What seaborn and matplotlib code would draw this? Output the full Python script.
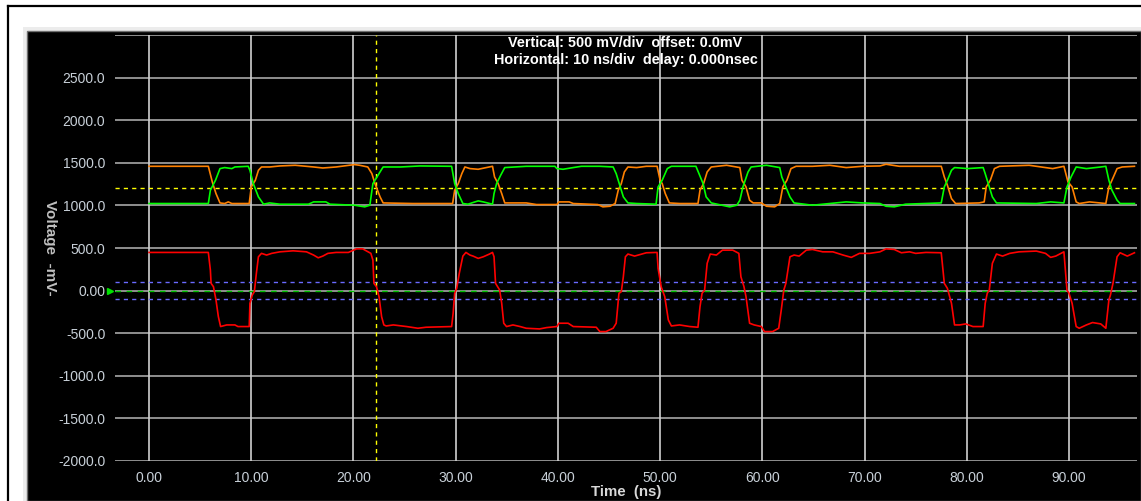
import numpy as np
import pandas as pd
import matplotlib.pyplot as plt
import matplotlib.transforms as mtransforms
from matplotlib.patches import Rectangle
from matplotlib.lines import Line2D
import seaborn as sns

# trace breakpoints (time in ns, voltage in mV)
orange_t = [0.0, 5.8, 6.2, 6.55, 6.94, 7.4, 7.75, 8.1, 9.8, 10.0, 10.4, 10.7, 11.0, 11.8,
            12.8, 14.3, 16.1, 17.0, 18.3, 20.1, 20.6, 21.4, 21.8, 22.1, 22.6, 22.9, 25.8,
            29.7, 29.9, 30.25, 30.6, 30.9, 31.4, 32.2, 33.0, 33.6, 33.8, 34.15, 34.5, 34.8,
            36.9, 37.9, 39.9, 40.1, 41.1, 41.5, 43.9, 44.4, 45.1, 45.6, 45.9, 46.2, 46.5,
            46.85, 47.7, 48.65, 49.7, 50.0, 50.2, 50.5, 50.9, 51.9, 53.7, 53.9, 54.25, 54.6,
            55.0, 56.5, 57.8, 58.0, 58.4, 58.75, 59.1, 59.9, 60.4, 61.2, 61.7, 62.0, 62.4,
            62.8, 63.3, 64.9, 66.6, 68.2, 69.8, 71.5, 72.1, 73.4, 77.5, 77.8, 78.1, 78.5,
            78.9, 81.2, 81.7, 81.9, 82.3, 82.7, 83.2, 86.1, 88.4, 89.5, 89.9, 90.3, 90.7,
            91.0, 92.0, 93.6, 93.9, 94.2, 94.7, 95.2, 96.4]
orange_mv = [1459, 1459, 1270, 1139, 1029, 1022, 1041, 1022, 1022, 1217, 1295, 1412, 1451, 1451,
             1463, 1471, 1451, 1439, 1451, 1479, 1471, 1451, 1373, 1256, 1100, 1029, 1022,
             1022, 1178, 1256, 1373, 1451, 1432, 1424, 1444, 1459, 1334, 1256, 1139, 1029,
             1029, 1010, 1010, 1041, 1041, 1022, 1010, 983, 990, 1022, 1178, 1256, 1393,
             1451, 1444, 1459, 1459, 1295, 1256, 1139, 1029, 1022, 1022, 1178, 1256, 1393,
             1451, 1471, 1444, 1295, 1217, 1061, 1029, 1029, 990, 983, 1022, 1217, 1295,
             1432, 1459, 1459, 1471, 1444, 1459, 1463, 1483, 1459, 1459, 1334, 1237, 1080,
             1022, 1029, 1041, 1217, 1295, 1432, 1459, 1471, 1432, 1459, 1276, 1217, 1041,
             1022, 1041, 1022, 1217, 1295, 1432, 1451, 1459]

green_t = [0.0, 5.8, 6.0, 6.5, 6.94, 7.4, 8.1, 8.4, 9.7, 9.87, 10.2, 10.7, 11.2, 11.8, 12.8,
           15.6, 16.1, 17.3, 17.7, 20.1, 21.1, 21.6, 21.9, 22.6, 22.9, 24.6, 26.5, 29.6,
           29.9, 30.25, 30.7, 31.2, 31.7, 32.2, 32.7, 33.6, 33.75, 34.0, 34.4, 34.8, 36.9,
           39.7, 39.9, 40.5, 41.5, 42.3, 44.1, 45.4, 45.7, 46.0, 46.4, 46.85, 47.7, 49.6,
           49.8, 50.2, 50.7, 51.1, 53.5, 53.8, 54.2, 54.5, 55.0, 56.8, 57.5, 57.8, 58.1,
           58.6, 58.9, 60.4, 61.7, 61.9, 62.3, 62.7, 63.1, 64.9, 68.2, 69.8, 71.5, 72.1,
           72.9, 74.0, 77.5, 77.8, 78.1, 78.5, 78.8, 80.1, 81.6, 81.8, 82.1, 82.5, 82.9,
           86.8, 88.2, 89.5, 89.8, 90.2, 90.7, 91.7, 93.1, 93.6, 93.9, 94.2, 94.7, 95.0, 96.4]
green_mv = [1022, 1022, 1178, 1295, 1432, 1444, 1432, 1451, 1459, 1412, 1256, 1100, 1014, 1029, 1014,
            1014, 1041, 1041, 1014, 1002, 983, 1002, 1256, 1393, 1451, 1451, 1463, 1459,
            1256, 1139, 1022, 1014, 1034, 1053, 1041, 1014, 1139, 1256, 1354, 1444, 1459,
            1459, 1432, 1424, 1444, 1459, 1459, 1451, 1373, 1256, 1100, 1029, 1022, 1014,
            1217, 1295, 1432, 1459, 1459, 1373, 1256, 1100, 1029, 983, 1002, 1061, 1217,
            1393, 1451, 1471, 1444, 1334, 1217, 1100, 1029, 1002, 1041, 1029, 1022, 990,
            983, 1014, 1029, 1217, 1295, 1412, 1444, 1432, 1444, 1373, 1256, 1100, 1029,
            1022, 1041, 1029, 1217, 1334, 1451, 1432, 1451, 1459, 1295, 1178, 1061, 1022, 1022]

red_t = [0.0, 5.8, 6.0, 6.07, 6.3, 6.55, 6.78, 7.0, 7.6, 8.4, 8.7, 9.8, 9.87, 10.1, 10.3, 10.5,
         10.7, 11.0, 11.5, 12.0, 12.8, 14.1, 15.4, 16.1, 16.55, 17.0, 17.5, 18.3, 19.5, 20.0,
         20.3, 20.9, 21.3, 21.7, 21.9, 22.0, 22.25, 22.5, 22.75, 22.97, 23.2, 23.9, 25.2,
         26.3, 27.1, 29.6, 29.75, 29.9, 30.1, 30.35, 30.7, 31.0, 31.4, 31.7, 32.2, 32.7,
         33.3, 33.6, 33.75, 33.9, 34.1, 34.3, 34.5, 34.7, 34.97, 35.6, 36.3, 36.9, 38.2,
         38.9, 39.9, 40.1, 41.0, 41.5, 43.75, 44.1, 44.7, 45.4, 45.7, 45.97, 46.2, 46.4,
         46.6, 46.85, 47.5, 48.2, 48.65, 49.7, 49.8, 50.1, 50.45, 50.8, 51.1, 51.9, 52.9,
         53.7, 53.9, 54.1, 54.35, 54.6, 54.9, 55.5, 56.1, 57.1, 57.7, 57.9, 58.2, 58.4,
         58.75, 59.2, 59.9, 60.2, 61.0, 61.6, 61.85, 62.1, 62.3, 62.7, 63.1, 63.6, 64.3,
         64.9, 65.9, 66.9, 67.9, 68.7, 69.5, 70.5, 71.5, 72.1, 72.9, 73.6, 74.4, 75.0,
         76.0, 77.5, 77.8, 78.1, 78.5, 78.8, 79.3, 79.9, 80.6, 81.6, 81.8, 82.0, 82.2,
         82.5, 82.9, 83.5, 84.2, 85.1, 86.8, 87.7, 88.2, 88.7, 89.5, 89.8, 90.0, 90.3,
         90.7, 91.0, 91.7, 92.3, 93.1, 93.6, 93.9, 94.05, 94.3, 94.7, 95.0, 95.7, 96.4]
red_mv = [448, 448, 241, 85, 46, -110, -305, -422, -403, -403, -422, -422, -150, -52, -13, 203,
          397, 437, 417, 437, 455, 467, 455, 417, 385, 405, 437, 448, 448, 475,
          490, 490, 464, 437, 358, 85, 46, -71, -305, -403, -415, -403, -422,
          -442, -430, -422, -266, -32, 27, 203, 405, 448, 417, 405, 378, 397,
          429, 448, 397, 85, 46, 7, -149, -383, -422, -403, -422, -442, -450,
          -434, -422, -383, -383, -422, -430, -481, -481, -442, -383, -32, -13, 163,
          397, 429, 405, 429, 444, 448, 261, 46, -71, -344, -415, -403, -422,
          -430, -188, -32, 7, 320, 429, 417, 475, 475, 437, 163, 46, -71,
          -383, -403, -422, -481, -481, -442, -227, 7, 85, 397, 417, 405, 475,
          483, 455, 455, 417, 390, 437, 437, 455, 490, 483, 444, 455, 437,
          448, 444, 85, 27, -149, -403, -403, -391, -422, -422, -149, -32, 7,
          320, 429, 405, 437, 455, 464, 437, 390, 405, 455, 7, -32, -149,
          -422, -442, -403, -375, -391, -442, -110, -52, 85, 397, 444, 405, 444]

x_ticks = [0, 10, 20, 30, 40, 50, 60, 70, 80, 90]
x_tick_labels = ["0.00", "10.00", "20.00", "30.00", "40.00", "50.00", "60.00", "70.00", "80.00", "90.00"]
y_grid = [-2000, -1500, -1000, -500, 0, 500, 1000, 1500, 2000, 2500, 3000]
y_ticks = [-2000, -1500, -1000, -500, 0, 500, 1000, 1500, 2000, 2500]
y_tick_labels = ["-2000.0", "-1500.0", "-1000.0", "-500.0", "0.00", "500.0", "1000.0", "1500.0", "2000.0", "2500.0"]
cursor_ns = 22.2
crossing_mv = 1210
threshold_mv = 100

plt.rcParams['font.family'] = ['Liberation Sans', 'DejaVu Sans']

W, H = 1141, 501
fig = plt.figure(figsize=(W / 100, H / 100), dpi=100, facecolor='white')

# window frame: outer black edge, light gray bevel, black screen (kept behind the axes)
fig.add_artist(Line2D([8 / W, 1], [1 - 6 / H, 1 - 6 / H], color='black', lw=1.6,
                      transform=fig.transFigure, zorder=-10))
fig.add_artist(Line2D([8 / W, 8 / W], [0, 1 - 6 / H], color='black', lw=1.6,
                      transform=fig.transFigure, zorder=-10))
fig.add_artist(Rectangle((23 / W, 0), 1 - 23 / W, 1 - 27 / H, transform=fig.transFigure,
                         facecolor='#ececec', edgecolor='none', zorder=-10))
fig.add_artist(Rectangle((27 / W, 0), 1 - 27 / W, 1 - 31 / H, transform=fig.transFigure,
                         facecolor='black', edgecolor='#707070', lw=1.0, zorder=-9))

ax = fig.add_axes([115 / W, 1 - 461 / H, (1137 - 115) / W, (461 - 35) / H])
ax.set_facecolor('black')
for s in ax.spines.values():
    s.set_visible(False)

for y in y_grid:
    ax.axhline(y, color='#a8a8a8', lw=1.2, zorder=1)
for x in x_ticks:
    ax.axvline(x, color='#d0d0d0', lw=1.2, zorder=1)

# cursors and thresholds
ax.axhline(0, color='#00c000', lw=1.0, ls=(0, (4, 4)), zorder=2)
for y in [threshold_mv, -threshold_mv]:
    ax.axhline(y, color='#6a6aff', lw=1.0, ls=(0, (3, 3)), zorder=2)
ax.axhline(crossing_mv, color='#ffff00', lw=1.0, ls=(0, (3, 3)), zorder=2)
ax.axvline(cursor_ns, color='#ffff00', lw=1.0, ls=(0, (3, 3)), zorder=2)

df = pd.concat([
    pd.DataFrame({'t': orange_t, 'mv': orange_mv, 'trace': 'pos'}),
    pd.DataFrame({'t': green_t, 'mv': green_mv, 'trace': 'neg'}),
    pd.DataFrame({'t': red_t, 'mv': red_mv, 'trace': 'diff'}),
])
sns.lineplot(data=df, x='t', y='mv', hue='trace', units='trace', estimator=None, sort=False,
             palette={'pos': '#ff8000', 'neg': '#00ff00', 'diff': '#ff0000'},
             legend=False, lw=1.2, ax=ax, zorder=3)

ax.set_xlim(-3.33, 96.65)
ax.set_ylim(-2000, 3000)
ax.set_xticks(x_ticks, x_tick_labels)
ax.set_yticks(y_ticks, y_tick_labels)
ax.tick_params(length=0, colors='#c8d0d8', labelsize=10)
ax.tick_params(axis='y', pad=7)
ax.tick_params(axis='x', pad=7)
ax.set_xlabel('')
ax.set_ylabel('')

# ground marker
trans = mtransforms.blended_transform_factory(ax.transAxes, ax.transData)
ax.plot([-0.005], [0], marker='>', color='#00e000', markersize=4, transform=trans, clip_on=False)

fig.text(625 / W, 1 - 43 / H, 'Vertical: 500 mV/div  offset: 0.0mV', color='white',
         fontweight='bold', fontsize=10.4, ha='center', va='center')
fig.text(626 / W, 1 - 60 / H, 'Horizontal: 10 ns/div  delay: 0.000nsec', color='white',
         fontweight='bold', fontsize=10.4, ha='center', va='center')
fig.text(626 / W, 1 - 492 / H, 'Time  (ns)', color='#d8d8d8', fontweight='bold',
         fontsize=10.8, ha='center', va='center')
fig.text(50 / W, 1 - 248 / H, 'Voltage  -mV-', color='#c0c0c0', fontweight='bold',
         fontsize=11, rotation=270, ha='center', va='center')

fig.savefig('out.png', dpi=100, facecolor='white')
